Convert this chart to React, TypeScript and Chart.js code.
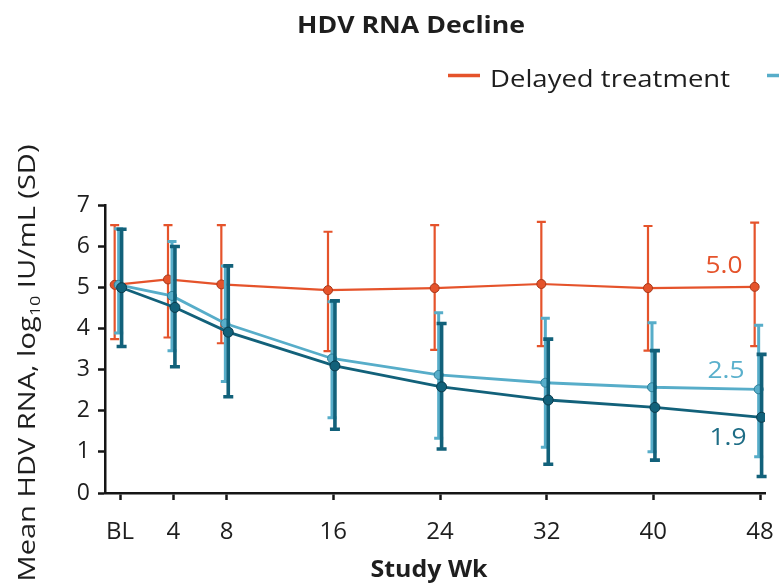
import React, { useEffect, useRef } from 'react';
import { Chart, registerables } from 'chart.js';

Chart.register(...registerables);

// ---------------- data ----------------
const WEEKS = [0, 4, 8, 16, 24, 32, 40, 48];
const X_TICK_LABELS = ['BL', '4', '8', '16', '24', '32', '40', '48'];
const Y_TICKS = [0, 1, 2, 3, 4, 5, 6, 7];

const DELAYED_LABEL = 'Delayed treatment';
const DELAYED_MEAN = [5.06, 5.19, 5.07, 4.93, 4.98, 5.08, 4.98, 5.01];
const DELAYED_UPPER = [6.51, 6.51, 6.51, 6.35, 6.51, 6.59, 6.49, 6.57];
const DELAYED_LOWER = [3.74, 3.78, 3.64, 3.45, 3.48, 3.57, 3.46, 3.57];

const LOW_LABEL = 'Bulevirtide 2 mg';
const LOW_MEAN = [5.06, 4.79, 4.12, 3.27, 2.87, 2.68, 2.57, 2.52];
const LOW_UPPER = [6.42, 6.11, 5.52, 4.65, 4.38, 4.25, 4.14, 4.08];
const LOW_LOWER = [3.89, 3.46, 2.71, 1.83, 1.33, 1.11, 1.0, 0.88];

const HIGH_LABEL = 'Bulevirtide 10 mg';
const HIGH_MEAN = [4.99, 4.51, 3.91, 3.09, 2.58, 2.26, 2.08, 1.84];
const HIGH_UPPER = [6.41, 5.99, 5.52, 4.67, 4.12, 3.74, 3.46, 3.37];
const HIGH_LOWER = [3.56, 3.07, 2.34, 1.55, 1.07, 0.7, 0.8, 0.4];

const END_LABELS = ['5.0', '2.5', '1.9']; // delayed, low, high

const TITLE = 'HDV RNA Decline';
const X_TITLE = 'Study Wk';
const Y_TITLE_MAIN = 'Mean HDV RNA, log';
const Y_TITLE_SUB = '10';
const Y_TITLE_END = ' IU/mL (SD)';

// ---------------- style ----------------
const ORANGE = '#e5532b';
const LIGHT = '#57adc9';
const DARK = '#12617a';
const AXIS = '#151515';
const TEXT = '#1e1e1e';
const FONT = '"Open Sans", sans-serif';
const CAP = 0.714;

function stretchedText(
  ctx: CanvasRenderingContext2D,
  text: string,
  x: number,
  y: number,
  capPx: number,
  widthPx: number,
  align: 'left' | 'center' | 'right',
  color: string,
  weight: string,
) {
  const size = capPx / CAP;
  ctx.save();
  ctx.font = `${weight} ${size}px ${FONT}`;
  const w = ctx.measureText(text).width;
  const sx = widthPx / w;
  ctx.translate(x, y);
  ctx.scale(sx, 1);
  ctx.fillStyle = color;
  ctx.textBaseline = 'alphabetic';
  ctx.textAlign = 'left';
  const start = align === 'left' ? 0 : align === 'center' ? -w / 2 : -w;
  ctx.fillText(text, start, 0);
  ctx.restore();
}

const errorBars = {
  id: 'errorBars',
  beforeDatasetDraw(chart: any, args: any) {
    const ds: any = chart.data.datasets[args.index];
    const { ctx, scales } = chart;
    const xs = scales.x;
    const ys = scales.y;
    ctx.save();
    ctx.strokeStyle = ds.borderColor;
    ctx.lineWidth = ds.errWidth;
    ctx.lineCap = 'butt';
    ds.data.forEach((p: any, i: number) => {
      const px = xs.getPixelForValue(p.x);
      const pu = ys.getPixelForValue(ds.upper[i]);
      const pl = ys.getPixelForValue(ds.lower[i]);
      const hw = ds.capHalf;
      ctx.beginPath();
      ctx.moveTo(px, pu);
      ctx.lineTo(px, pl);
      ctx.moveTo(px - hw, pu);
      ctx.lineTo(px + hw, pu);
      ctx.moveTo(px - hw, pl);
      ctx.lineTo(px + hw, pl);
      ctx.stroke();
    });
    ctx.restore();
  },
};

const decorations = {
  id: 'decorations',
  afterDraw(chart: any) {
    const { ctx, scales } = chart;
    // title
    stretchedText(ctx, TITLE, 411, 33, 16.5, 228, 'center', TEXT, 'bold');
    // legend
    const legendItems = [
      { label: DELAYED_LABEL, color: ORANGE },
      { label: LOW_LABEL, color: LIGHT },
      { label: HIGH_LABEL, color: DARK },
    ];
    let lx = 448;
    legendItems.forEach((it) => {
      ctx.save();
      ctx.strokeStyle = it.color;
      ctx.lineWidth = 3.5;
      ctx.beginPath();
      ctx.moveTo(lx, 75.5);
      ctx.lineTo(lx + 32, 75.5);
      ctx.stroke();
      ctx.restore();
      const size = 17 / CAP;
      ctx.save();
      ctx.font = `normal ${size}px ${FONT}`;
      const w = ctx.measureText(it.label).width;
      ctx.restore();
      const tw = it.label === DELAYED_LABEL ? 240 : w;
      stretchedText(ctx, it.label, lx + 42, 87, 17, tw, 'left', TEXT, 'normal');
      lx += 42 + tw + 37;
    });
    // x title
    stretchedText(ctx, X_TITLE, 429, 577, 16, 117, 'center', TEXT, 'bold');
    // y title with subscript
    {
      const size = 16.5 / CAP;
      ctx.save();
      ctx.font = `normal ${size}px ${FONT}`;
      const w1 = ctx.measureText(Y_TITLE_MAIN).width;
      const w3 = ctx.measureText(Y_TITLE_END).width;
      ctx.font = `normal ${size * 0.62}px ${FONT}`;
      const w2 = ctx.measureText(Y_TITLE_SUB).width;
      const total = w1 + w2 + w3;
      const sx = 437 / total;
      ctx.translate(35, 363);
      ctx.rotate(-Math.PI / 2);
      ctx.scale(sx, 1);
      ctx.fillStyle = TEXT;
      ctx.textAlign = 'left';
      ctx.textBaseline = 'alphabetic';
      let cx = -total / 2;
      ctx.font = `normal ${size}px ${FONT}`;
      ctx.fillText(Y_TITLE_MAIN, cx, 0);
      cx += w1;
      ctx.font = `normal ${size * 0.62}px ${FONT}`;
      ctx.fillText(Y_TITLE_SUB, cx, size * 0.2);
      cx += w2;
      ctx.font = `normal ${size}px ${FONT}`;
      ctx.fillText(Y_TITLE_END, cx, 0);
      ctx.restore();
    }
    // end labels
    const xs = scales.x;
    const ys = scales.y;
    const lastX = xs.getPixelForValue(WEEKS[WEEKS.length - 1]);
    const specs = [
      { t: END_LABELS[0], v: DELAYED_MEAN[DELAYED_MEAN.length - 1], dy: -14, c: ORANGE },
      { t: END_LABELS[1], v: LOW_MEAN[LOW_MEAN.length - 1], dy: -11, c: '#5ab0cc' },
      { t: END_LABELS[2], v: HIGH_MEAN[HIGH_MEAN.length - 1], dy: 28, c: '#1d6c85' },
    ];
    specs.forEach((s, i) => {
      const cxp = lastX - 36 + i * 2;
      stretchedText(ctx, s.t, cxp, ys.getPixelForValue(s.v) + s.dy, 17, 37, 'center', s.c, 'normal');
    });
  },
};

export default function App() {
  const ref = useRef<HTMLCanvasElement>(null);
  useEffect(() => {
    const canvas = ref.current;
    if (!canvas) return;
    const pts = (mean: number[], off: number) => mean.map((v, i) => ({ x: WEEKS[i] + off, y: v }));
    const chart = new Chart(canvas, {
      type: 'line',
      data: {
        datasets: [
          {
            label: HIGH_LABEL,
            data: pts(HIGH_MEAN, 0.12),
            borderColor: DARK,
            backgroundColor: DARK,
            pointBorderColor: '#0a3c4e',
            pointBorderWidth: 1,
            pointRadius: 5,
            borderWidth: 2.8,
            tension: 0,
            fill: false,
            upper: HIGH_UPPER,
            lower: HIGH_LOWER,
            errWidth: 3.6,
            capHalf: 5,
          } as any,
          {
            label: LOW_LABEL,
            data: pts(LOW_MEAN, -0.1),
            borderColor: LIGHT,
            backgroundColor: LIGHT,
            pointBorderColor: '#2d7f99',
            pointBorderWidth: 1,
            pointRadius: 4.5,
            borderWidth: 2.8,
            tension: 0,
            fill: false,
            upper: LOW_UPPER,
            lower: LOW_LOWER,
            errWidth: 3,
            capHalf: 4.5,
          } as any,
          {
            label: DELAYED_LABEL,
            data: pts(DELAYED_MEAN, -0.4),
            borderColor: ORANGE,
            backgroundColor: ORANGE,
            pointBorderColor: '#a8391b',
            pointBorderWidth: 1,
            pointRadius: 4.5,
            borderWidth: 2.2,
            tension: 0,
            fill: false,
            upper: DELAYED_UPPER,
            lower: DELAYED_LOWER,
            errWidth: 2.2,
            capHalf: 4.5,
          } as any,
        ],
      },
      options: {
        responsive: false,
        animation: false,
        layout: { padding: { top: 205, right: 14, bottom: 0, left: 0 } },
        plugins: {
          legend: { display: false },
          title: { display: false },
          tooltip: { enabled: false },
        },
        scales: {
          x: {
            type: 'linear',
            min: -1.125,
            max: 48.375,
            afterBuildTicks: (scale: any) => {
              scale.ticks = WEEKS.map((v) => ({ value: v }));
            },
            afterFit: (scale: any) => {
              scale.height = 90;
              scale.paddingLeft = 0;
              scale.paddingRight = 0;
            },
            ticks: {
              autoSkip: false,
              maxRotation: 0,
              padding: 18,
              color: TEXT,
              font: { family: FONT, size: 24 },
              callback: (value: any) => {
                const i = WEEKS.indexOf(Number(value));
                return i >= 0 ? X_TICK_LABELS[i] : '';
              },
            },
            grid: {
              drawOnChartArea: false,
              drawTicks: true,
              tickLength: 7,
              tickWidth: 2.5,
              tickColor: AXIS,
            },
            border: { color: AXIS, width: 2.5 },
          },
          y: {
            min: 0,
            max: 7,
            afterBuildTicks: (scale: any) => {
              scale.ticks = Y_TICKS.map((v) => ({ value: v }));
            },
            afterFit: (scale: any) => {
              scale.width = 105;
              scale.paddingTop = 0;
              scale.paddingBottom = 0;
            },
            ticks: {
              padding: 8,
              color: TEXT,
              font: { family: FONT, size: 23 },
            },
            grid: {
              drawOnChartArea: false,
              drawTicks: true,
              tickLength: 7,
              tickWidth: 2.5,
              tickColor: AXIS,
            },
            border: { color: AXIS, width: 2.5 },
          },
        },
      } as any,
      plugins: [errorBars, decorations],
    });
    return () => chart.destroy();
  }, []);
  return (
    <div style={{ position: 'absolute', left: 0, top: 0, width: 779, height: 583, background: '#fff' }}>
      <canvas ref={ref} width={779} height={583} style={{ display: 'block' }} />
    </div>
  );
}
